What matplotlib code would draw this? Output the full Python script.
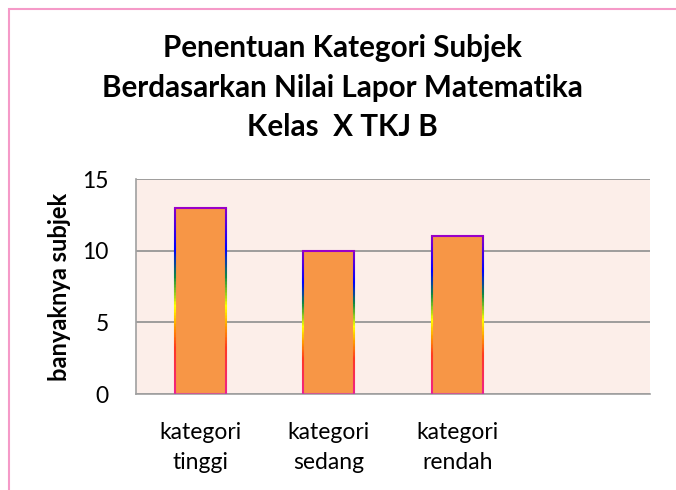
import numpy as np
import matplotlib
matplotlib.use('Agg')
import matplotlib.pyplot as plt
from matplotlib.collections import LineCollection
from matplotlib.colors import LinearSegmentedColormap
from matplotlib.patches import Rectangle

# data
categories = ['kategori\ntinggi', 'kategori\nsedang', 'kategori\nrendah', '']
values = [13, 10, 11, 0]
yticks = [0, 5, 10, 15]
title = 'Penentuan Kategori Subjek\nBerdasarkan Nilai Lapor Matematika\nKelas  X TKJ B'
ylabel = 'banyaknya subjek'

FONT = 'Lato'
BAR_COLOR = '#F79646'
BG_COLOR = '#FCEEE9'
GRID_COLOR = '#8E8E8E'
BORDER_COLOR = '#F59AC8'

# rainbow outline, from bottom (0) to top (1)
edge_cmap = LinearSegmentedColormap.from_list('edge', [
    (0.00, '#F0208C'),
    (0.25, '#FF3A20'),
    (0.36, '#FF9A00'),
    (0.47, '#FFFF00'),
    (0.63, '#108A40'),
    (0.78, '#0000FF'),
    (1.00, '#8800C8'),
])


def bar_outline(ax, x, h, w, lw=1.5):
    if h <= 0:
        return
    n = 120
    ys = np.linspace(0, h, n + 1)
    for xe in (x - w / 2, x + w / 2):
        segs = [[(xe, ys[i]), (xe, ys[i + 1])] for i in range(n)]
        cols = edge_cmap((ys[:-1] + ys[1:]) / 2 / h)
        ax.add_collection(LineCollection(segs, colors=cols, linewidths=lw,
                                         capstyle='butt', zorder=4))
    ax.plot([x - w / 2, x + w / 2], [h, h], color='#9A00C8', lw=lw,
            solid_capstyle='projecting', zorder=4)
    ax.plot([x - w / 2, x + w / 2], [0, 0], color='#C040B0', lw=lw,
            alpha=0.7, zorder=4)


def main():
    fig = plt.figure(figsize=(6.76, 4.90), dpi=100)
    fig.patch.set_facecolor('white')

    # chart border
    fig.patches.append(Rectangle((9 / 676, -0.1), 1.2, 1 - 9 / 490 + 0.1,
                                 transform=fig.transFigure, fill=False,
                                 edgecolor=BORDER_COLOR, lw=1.5))

    ax = fig.add_axes([136 / 676, 1 - 394 / 490, 514 / 676, 215 / 490])
    ax.set_facecolor(BG_COLOR)

    x = np.arange(len(categories))
    w = 0.4
    ax.bar(x, values, width=w, color=BAR_COLOR, zorder=3)
    for xi, v in zip(x, values):
        bar_outline(ax, xi, v, w)

    ax.set_xlim(-0.5, len(categories) - 0.5)
    ax.set_ylim(0, 15)
    ax.set_yticks(yticks)
    ax.set_yticklabels([str(t) for t in yticks], fontsize=16.5, family=FONT)
    ax.set_xticks(x)
    ax.set_xticklabels(categories, fontsize=16.5, family=FONT, linespacing=1.55)
    ax.tick_params(axis='both', length=0, colors='black')
    ax.tick_params(axis='y', pad=19.5)
    ax.tick_params(axis='x', pad=20)

    ax.yaxis.grid(True, color=GRID_COLOR, lw=1.2, zorder=1)
    ax.set_axisbelow(True)
    for s in ('top', 'right'):
        ax.spines[s].set_visible(False)
    for s in ('left', 'bottom'):
        ax.spines[s].set_color('#A0A0A0')
        ax.spines[s].set_linewidth(1.2)

    ax.set_ylabel(ylabel, fontsize=17, fontweight='bold', family=FONT, labelpad=8)

    fig.text(0.5 + 9 / 676 / 2, 1 - 88 / 490, title, ha='center', va='center',
             fontsize=21.3, fontweight='bold', family=FONT, linespacing=1.5)

    fig.savefig('out.png', dpi=100)


if __name__ == "__main__":
    main()
